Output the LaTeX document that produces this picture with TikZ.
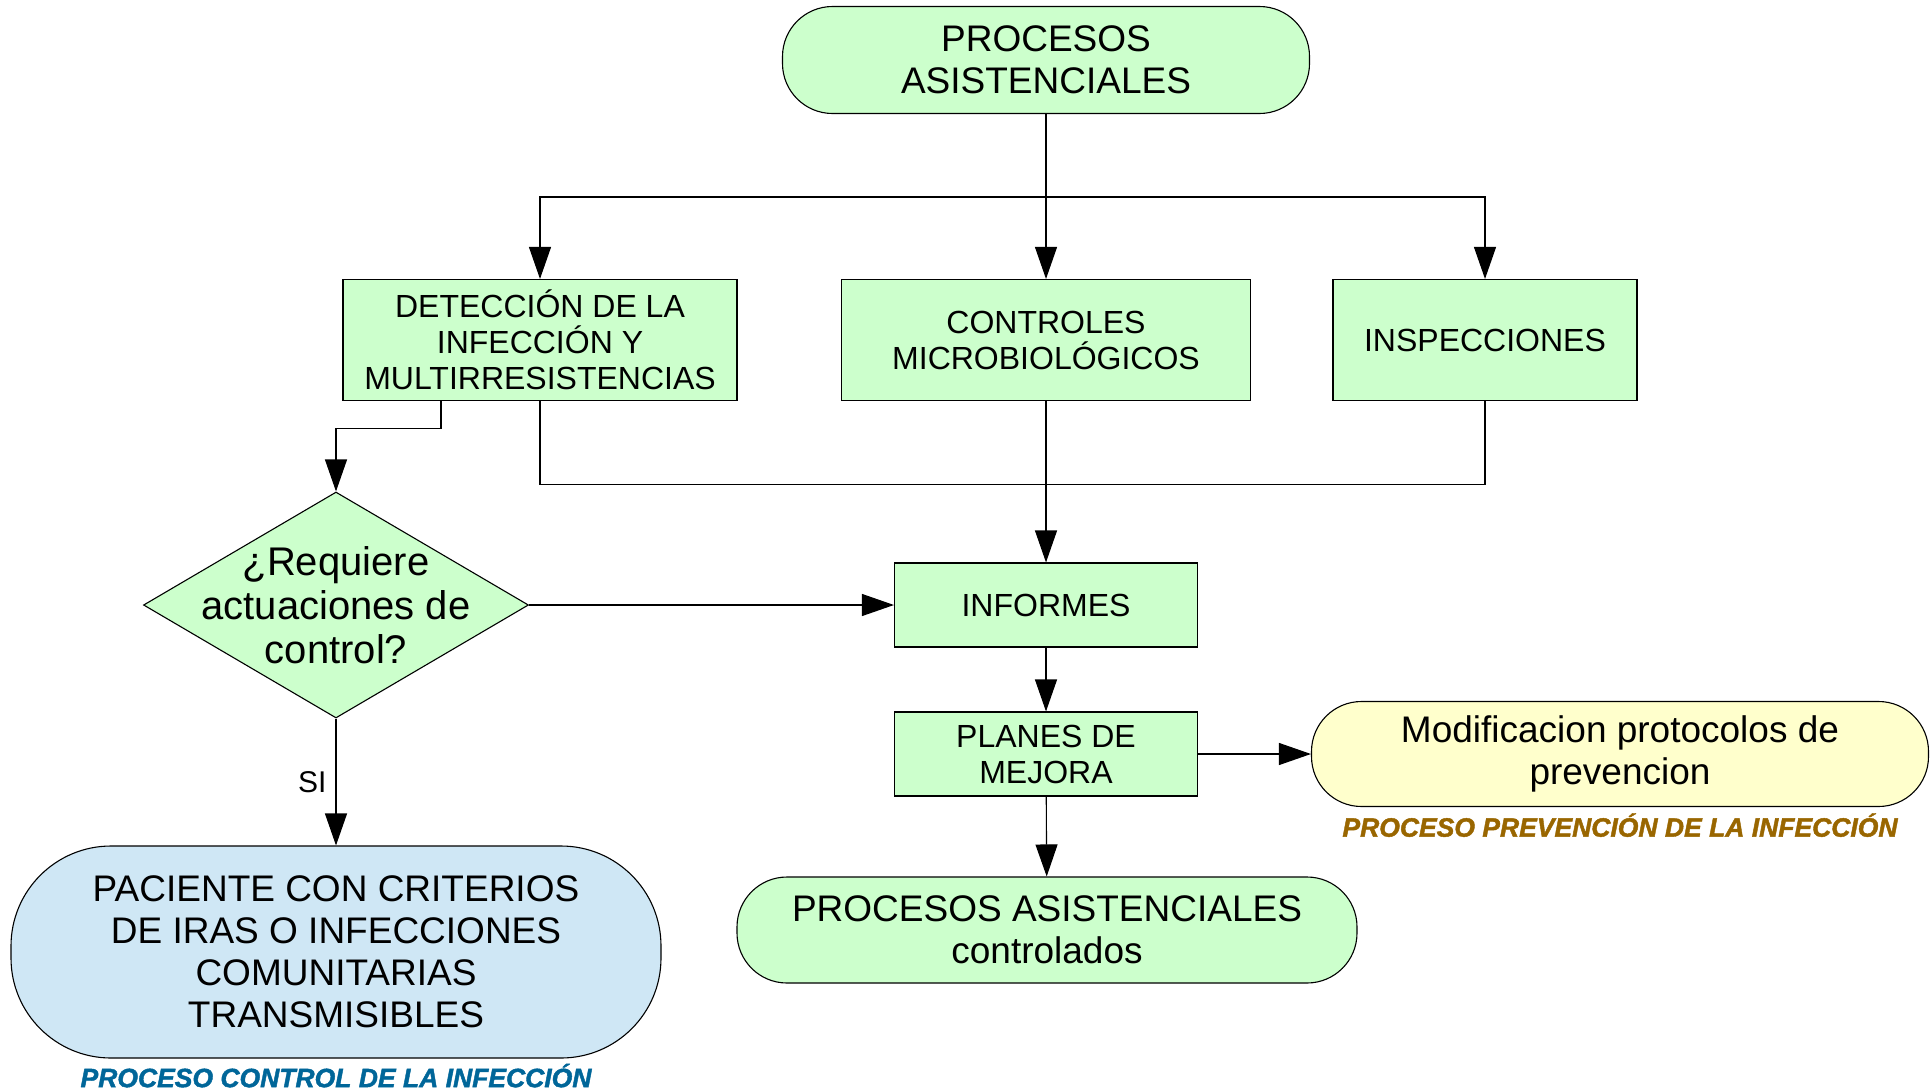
\documentclass[tikz,border=0pt]{standalone}
\usepackage{fontspec}
\setmainfont{Liberation Sans}
\newfontfamily\tagfamily[BoldItalicFeatures={FakeBold=1.6}]{Liberation Sans}
\usetikzlibrary{arrows.meta,shapes.geometric,positioning}
\definecolor{boxgreen}{HTML}{CCFFCC}
\definecolor{boxblue}{HTML}{CFE7F5}
\definecolor{boxyellow}{HTML}{FFFFCC}
\definecolor{tagblue}{HTML}{006699}
\definecolor{tagbrown}{HTML}{996600}
\newcommand{\bigtxt}{\fontsize{37}{42}\selectfont}
\newcommand{\boxtxt}{\fontsize{32}{36}\selectfont}
\newcommand{\asktxt}{\fontsize{40}{44}\selectfont}
\newcommand{\tagtxt}{\fontsize{26.5}{30}\selectfont\tagfamily\bfseries\itshape}
\tikzset{
    flow-box/.style = {draw, fill=boxgreen, line width=1.1pt, rectangle, align=center, font=\boxtxt, inner sep=0pt},
    flow-end/.style = {draw, fill=boxgreen, line width=1.1pt, rectangle, rounded corners=50pt, align=center, font=\bigtxt, inner sep=0pt},
    flow-ask/.style = {draw, fill=boxgreen, line width=1.1pt, diamond, aspect=1.7, inner sep=-30pt, align=center, font=\asktxt},
    flow-tag/.style = {font=\tagtxt, inner sep=0pt},
    flow-line/.style = {line width=1.1pt},
    flow-arrow/.style = {line width=1.1pt, -{Triangle[width=22pt,length=32pt]}},
}

\begin{document}
\begin{tikzpicture}[x=1pt, y=-1pt]
\useasboundingbox (0,0) rectangle (1930,1090);
\node[flow-end, minimum width=527pt, minimum height=107pt] (start) at (1046,60) {PROCESOS\\ASISTENCIALES};
\node[flow-box, minimum width=394pt, minimum height=121pt] (detect) at (540,340) {DETECCIÓN DE LA\\INFECCIÓN Y\\MULTIRRESISTENCIAS};
\node[flow-box, minimum width=409pt, minimum height=121pt] (micro) at (1046,340) {CONTROLES\\MICROBIOLÓGICOS};
\node[flow-box, minimum width=304pt, minimum height=121pt] (inspect) at (1485,340) {INSPECCIONES};
\node[flow-box, minimum width=303pt, minimum height=84pt] (report) at (1046,605) {INFORMES};
\node[flow-box, minimum width=303pt, minimum height=84pt] (plans) at (1046,754) {PLANES DE\\MEJORA};
\node[flow-end, fill=boxyellow, minimum width=617pt, minimum height=105pt] (protocol) at (1620,754) {Modificacion protocolos de\\prevencion};
\node[flow-end, minimum width=620pt, minimum height=106pt] (done) at (1047,930) {PROCESOS ASISTENCIALES\\controlados};
\node[flow-ask, minimum width=385pt, minimum height=226pt] (ask) at (336,605) {¿Requiere\\actuaciones de\\control?};
\node[flow-end, fill=boxblue, rounded corners=100pt, minimum width=650pt, minimum height=212pt] (patient) at (336,952) {PACIENTE CON CRITERIOS\\DE IRAS O INFECCIONES\\COMUNITARIAS\\TRANSMISIBLES};
\node[flow-tag, text=tagblue, below=5pt of patient] (control-tag) {PROCESO CONTROL DE LA INFECCIÓN};
\node[flow-tag, text=tagbrown, below=6pt of protocol] (prevent-tag) {PROCESO PREVENCIÓN DE LA INFECCIÓN};

\coordinate (split) at (1046,197);
\draw[flow-line] (start) -- (split);
\draw[flow-arrow] (split) -- (micro);
\draw[flow-arrow] (split) -| (detect);
\draw[flow-arrow] (split) -| (inspect);
\draw[flow-arrow] ([xshift=-99pt]detect.south) -- ++(0,27) -| (ask);
\draw[flow-line] (detect.south) -- ++(0,83) -| (inspect.south);
\draw[flow-arrow] (micro) -- (report);
\draw[flow-arrow] (ask) -- (report);
\draw[flow-arrow] (report) -- (plans);
\draw[flow-arrow] (plans) -- (protocol);
\draw[flow-arrow] (plans) -- (done);
\draw[flow-arrow] (ask) -- node[left=9pt, inner sep=0pt, font=\fontsize{30}{34}\selectfont] (yes) {SI} (patient);
\end{tikzpicture}
\end{document}
